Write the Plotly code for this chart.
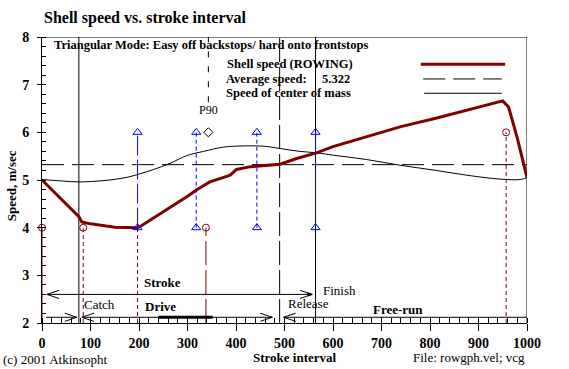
import plotly.graph_objects as go

# ---------------- data ----------------
shell_x = [0, 20, 40, 60, 76, 82, 100, 150, 197, 205, 230, 265, 300, 320, 346, 370, 388, 401, 430, 491,
           525, 566, 600, 670, 740, 810, 876, 930, 950, 962, 980, 1000]
shell_y = [5.0, 4.80, 4.59, 4.39, 4.23, 4.12, 4.08, 4.01, 4.0, 4.04, 4.2, 4.44, 4.66, 4.8, 4.96, 5.04,
           5.10, 5.22, 5.28, 5.33, 5.45, 5.57, 5.70, 5.91, 6.12, 6.29, 6.47, 6.62, 6.66, 6.53, 5.88, 5.05]

com_x = [0, 40, 78, 130, 161, 181, 202, 230, 264, 298, 333, 374, 400, 456, 491, 532, 566, 601, 669,
         738, 807, 876, 944, 986, 1000]
com_y = [5.01, 4.98, 4.96, 4.99, 5.03, 5.07, 5.13, 5.22, 5.35, 5.51, 5.60, 5.69, 5.71, 5.71, 5.66,
         5.60, 5.57, 5.52, 5.43, 5.31, 5.21, 5.10, 5.02, 5.01, 5.05]

avg_speed = 5.322

x_tick_vals = [0, 100, 200, 300, 400, 500, 600, 700, 800, 900, 1000]
x_tick_text = ["0", "100", "200", "300", "400", "500", "600", "700", "800", "900", "1000"]
y_tick_vals = [2, 3, 4, 5, 6, 7, 8]

# phase boundaries (black verticals)
phase_x = [76, 490, 564, 1000]
phase_dash = ["solid", "24px,5px", "solid", "solid"]

# red event markers (shell speed events)
red_event_x = [0, 85, 197, 338, 957]
red_event_y = [4, 4, 4, 4, 6]
red_event_dash = ["solid", "4px,3px", "4px,3px", "24px,5px", "4px,3px"]
red_circle_x = [0, 85, 338, 957]
red_circle_y = [4, 4, 4, 6]

# blue event markers
blue_event_x = [197, 318, 443, 564]
blue_low = [4, 4, 4, 4]
blue_high = [6, 6, 6, 6]
blue_dash = ["20px,4px", "4px,3px", "4px,3px", "solid"]

p90_x = [343]
p90_y = [6.0]

# phase arrows: (start, end, y, left head, right head)
arrow_start = [10, 8, 82, 498]
arrow_end = [557, 72, 475, 1044]
arrow_y = [2.60, 2.12, 2.12, 2.12]
arrow_lhead = [True, False, True, True]
arrow_rhead = [True, True, True, True]
pull_seg = [240, 352]

DARKRED = "#800000"
BLUE = "#0000FF"
SERIF = "Liberation Serif, Times New Roman, serif"

fig = go.Figure()

shapes = []
# top frame
shapes.append(dict(type="line", xref="x", yref="y", x0=0, x1=1000, y0=8, y1=8,
                   line=dict(color="black", width=1)))
# phase verticals
for px_, d in zip(phase_x, phase_dash):
    shapes.append(dict(type="line", xref="x", yref="y", x0=px_, x1=px_, y0=2, y1=8,
                       line=dict(color="black", width=1, dash=d), layer="below"))
# red event lines
for ex, ey, d in zip(red_event_x, red_event_y, red_event_dash):
    shapes.append(dict(type="line", xref="x", yref="y", x0=ex, x1=ex, y0=2, y1=ey,
                       line=dict(color=DARKRED, width=1, dash=d), layer="below"))
# blue event lines
for bx, lo, hi, d in zip(blue_event_x, blue_low, blue_high, blue_dash):
    shapes.append(dict(type="line", xref="x", yref="y", x0=bx, x1=bx, y0=lo, y1=hi,
                       line=dict(color=BLUE, width=1, dash=d), layer="below"))
# P90 dashed line from top
shapes.append(dict(type="line", xref="x", yref="y", x0=p90_x[0], x1=p90_x[0], y0=6.63, y1=8,
                   line=dict(color="black", width=1, dash="6px,9px"), layer="below"))

# arrows
hx, hy = 25, 0.085
for s, e, y, lh, rh in zip(arrow_start, arrow_end, arrow_y, arrow_lhead, arrow_rhead):
    shapes.append(dict(type="line", xref="x", yref="y", x0=s, x1=e, y0=y, y1=y,
                       line=dict(color="black", width=1)))
    if lh:
        for sgn in (1, -1):
            shapes.append(dict(type="line", xref="x", yref="y", x0=s, x1=s + hx, y0=y, y1=y + sgn * hy,
                               line=dict(color="black", width=1)))
    if rh:
        for sgn in (1, -1):
            shapes.append(dict(type="line", xref="x", yref="y", x0=e, x1=e - hx, y0=y, y1=y + sgn * hy,
                               line=dict(color="black", width=1)))
# small filled tip on the stroke arrow
e0, y0 = arrow_end[0], arrow_y[0]
shapes.append(dict(type="path", xref="x", yref="y",
                   path=f"M {e0},{y0} L {e0 - 9},{y0 + 0.035} L {e0 - 9},{y0 - 0.035} Z",
                   fillcolor="black", line=dict(color="black", width=1)))
# thick pull segment on drive arrow
shapes.append(dict(type="line", xref="x", yref="y", x0=pull_seg[0], x1=pull_seg[1], y0=2.12, y1=2.12,
                   line=dict(color="black", width=3)))

# legend sample lines
shapes.append(dict(type="line", xref="x", yref="y", x0=781, x1=955, y0=7.43, y1=7.43,
                   line=dict(color=DARKRED, width=3)))
shapes.append(dict(type="line", xref="x", yref="y", x0=786, x1=948, y0=7.12, y1=7.12,
                   line=dict(color="black", width=1, dash="22px,8px")))
shapes.append(dict(type="line", xref="x", yref="y", x0=788, x1=948, y0=6.82, y1=6.82,
                   line=dict(color="black", width=1)))

# traces
fig.add_trace(go.Scatter(x=[0, 1000], y=[avg_speed, avg_speed], mode="lines",
                         line=dict(color="black", width=1, dash="22px,8px"), hoverinfo="skip"))
fig.add_trace(go.Scatter(x=com_x, y=com_y, mode="lines", line=dict(color="black", width=1),
                         line_shape="spline", hoverinfo="skip"))
fig.add_trace(go.Scatter(x=shell_x, y=shell_y, mode="lines", line=dict(color=DARKRED, width=3),
                         hoverinfo="skip"))
fig.add_trace(go.Scatter(x=red_circle_x, y=red_circle_y, mode="markers", cliponaxis=False,
                         marker=dict(symbol="circle-open", size=7, color=DARKRED, line=dict(width=1))))
bx_all = blue_event_x + blue_event_x
by_all = blue_low + blue_high
fig.add_trace(go.Scatter(x=bx_all, y=by_all, mode="markers",
                         marker=dict(symbol="triangle-up-open", size=8, color=BLUE, line=dict(width=1))))
fig.add_trace(go.Scatter(x=p90_x, y=p90_y, mode="markers",
                         marker=dict(symbol="diamond-open", size=7, color="black", line=dict(width=1))))
fig.add_trace(go.Scatter(x=[0], y=[1.82], mode="markers", cliponaxis=False,
                         marker=dict(symbol="triangle-up", size=9, color="black")))

f_b13 = dict(family=SERIF, size=13, color="black", weight="bold")
f_b125 = dict(family=SERIF, size=12.5, color="black", weight="bold")
f_r13 = dict(family=SERIF, size=13, color="black")
annotations = [
    dict(text="Shell speed vs. stroke interval", xref="paper", yref="paper", x=0, y=1.066,
         xanchor="left", yanchor="middle", showarrow=False,
         font=dict(family=SERIF, size=16, color="black", weight="bold")),
    dict(text="Triangular Mode: Easy off backstops/ hard onto frontstops", xref="x", yref="y",
         x=20, y=7.83, xanchor="left", yanchor="middle", showarrow=False, font=f_b125),
    dict(text="Shell speed (ROWING)", xref="x", yref="y", x=378, y=7.43, xanchor="left",
         yanchor="middle", showarrow=False, font=f_b125),
    dict(text="Average speed:", xref="x", yref="y", x=375, y=7.12, xanchor="left",
         yanchor="middle", showarrow=False, font=f_b125),
    dict(text=f"{avg_speed:.3f}", xref="x", yref="y", x=573, y=7.12, xanchor="left",
         yanchor="middle", showarrow=False, font=f_b125),
    dict(text="Speed of center of mass", xref="x", yref="y", x=375, y=6.82, xanchor="left",
         yanchor="middle", showarrow=False, font=f_b125),
    dict(text="P90", xref="x", yref="y", x=p90_x[0], y=6.46, xanchor="center",
         yanchor="middle", showarrow=False, font=dict(family=SERIF, size=12, color="black")),
    dict(text="Start", xref="x", yref="y", x=-7, y=2.62, xanchor="right", yanchor="middle",
         showarrow=False, font=f_r13),
    dict(text="Stroke", xref="x", yref="y", x=248, y=2.84, xanchor="center", yanchor="middle",
         showarrow=False, font=f_b13),
    dict(text="Finish", xref="x", yref="y", x=575, y=2.68, xanchor="left", yanchor="middle",
         showarrow=False, font=f_r13),
    dict(text="Catch", xref="x", yref="y", x=83, y=2.38, xanchor="left", yanchor="middle",
         showarrow=False, font=f_r13),
    dict(text="Drive", xref="x", yref="y", x=245, y=2.34, xanchor="center", yanchor="middle",
         showarrow=False, font=f_b13),
    dict(text="Release", xref="x", yref="y", x=503, y=2.41, xanchor="left", yanchor="middle",
         showarrow=False, font=f_r13),
    dict(text="Free-run", xref="x", yref="y", x=733, y=2.28, xanchor="center", yanchor="middle",
         showarrow=False, font=f_b13),
    dict(text="Speed, m/sec", xref="paper", yref="y", x=-0.064, y=4.89, xanchor="center",
         yanchor="middle", textangle=-90, showarrow=False, font=f_b13),
    dict(text="(c) 2001 Atkinsopht", xref="paper", yref="paper", x=-0.084, y=-0.126,
         xanchor="left", yanchor="middle", showarrow=False, font=f_r13),
    dict(text="Stroke interval", xref="paper", yref="paper", x=0.522, y=-0.119,
         xanchor="center", yanchor="middle", showarrow=False, font=f_b13),
    dict(text="File: rowgph.vel; vcg", xref="paper", yref="paper", x=0.761, y=-0.119,
         xanchor="left", yanchor="middle", showarrow=False, font=f_r13),
]

fig.update_layout(
    width=569, height=369,
    margin=dict(l=42, r=42, t=37, b=46, pad=0),
    paper_bgcolor="white", plot_bgcolor="white",
    showlegend=False,
    shapes=shapes,
    annotations=annotations,
    xaxis=dict(range=[0, 1000], showgrid=False, zeroline=False, showline=True, linecolor="black",
               linewidth=1, ticks="outside", ticklen=7, tickcolor="black", tickvals=x_tick_vals,
               ticktext=x_tick_text, tickfont=dict(family=SERIF, size=14, color="black", weight="bold"),
               minor=dict(ticks="inside", ticklen=5, dtick=20, tick0=0, tickcolor="black", showgrid=False)),
    xaxis2=dict(range=[0, 1000], overlaying="x", anchor="y", side="bottom", showgrid=False,
                zeroline=False, showline=False, ticks="inside", ticklen=6, tickcolor="black",
                tickvals=x_tick_vals, showticklabels=False),
    yaxis=dict(range=[2, 8], showgrid=False, zeroline=False, showline=True, linecolor="black",
               linewidth=1, ticks="outside", ticklen=4, tickcolor="black", tickvals=y_tick_vals,
               ticklabelstandoff=5,
               tickfont=dict(family=SERIF, size=14, color="black", weight="bold"),
               minor=dict(ticks="inside", ticklen=4, dtick=0.2, tick0=2, tickcolor="black", showgrid=False)),
)
# dummy trace to activate xaxis2
fig.add_trace(go.Scatter(x=[0], y=[2], xaxis="x2", mode="markers", marker=dict(opacity=0),
                         hoverinfo="skip"))

fig.write_html("out.html", config={"displayModeBar": False},
               post_script="document.body.style.margin='0px';document.body.style.overflow='hidden';")
